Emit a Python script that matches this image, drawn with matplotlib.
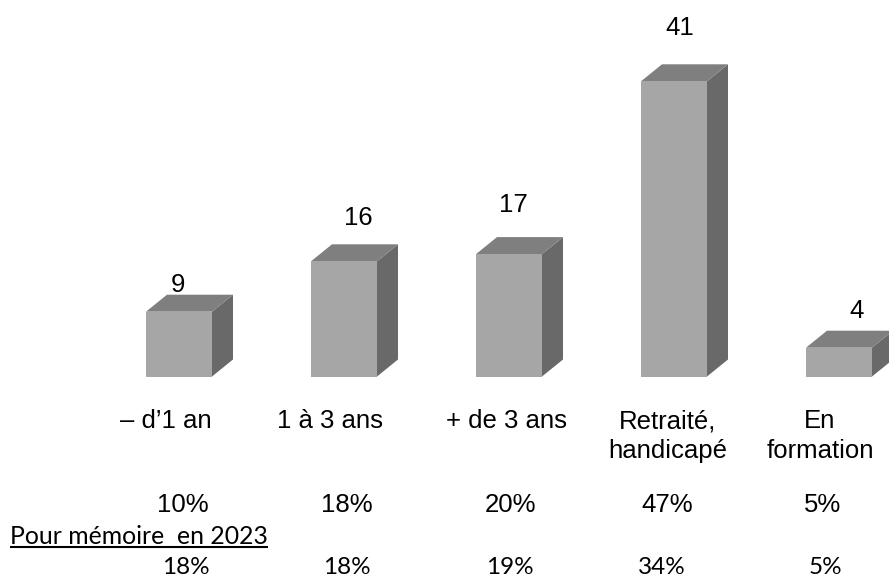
import matplotlib
matplotlib.use("Agg")
import matplotlib.pyplot as plt
from matplotlib.patches import Polygon, Rectangle

# ---- data ----
categories = ["– d’1 an", "1 à 3 ans", "+ de 3 ans", "Retraité,\nhandicapé", "En\nformation"]
values = [9, 16, 17, 41, 4]
pct_2024 = ["10%", "18%", "20%", "47%", "5%"]
pct_2023 = ["18%", "18%", "19%", "34%", "5%"]
memo_label = "Pour mémoire  en 2023"

# ---- layout ----
W, H = 889, 579
DPI = 100
x0_px, step_px = 179, 165          # centre of first bar front, spacing
base_px, unit_px = 376.5, 7.2      # baseline pixel (from top), pixels per unit
bar_w = 66 / step_px
dxd = 21 / step_px
dyd = 17 / unit_px

front_c, top_c, side_c = "#A6A6A6", "#7F7F7F", "#696969"

fig = plt.figure(figsize=(W / DPI, H / DPI), dpi=DPI)
ax = fig.add_axes([0, 0, 1, 1])
ax.set_xlim(-x0_px / step_px, (W - x0_px) / step_px)
ax.set_ylim((base_px - H) / unit_px, base_px / unit_px)
ax.axis("off")

for i, v in enumerate(values):
    xl = i - bar_w / 2
    xr = i + bar_w / 2
    ax.add_patch(Polygon([(xr, 0), (xr + dxd, dyd), (xr + dxd, v + dyd), (xr, v)],
                         closed=True, facecolor=side_c, edgecolor="none"))
    ax.add_patch(Polygon([(xl, v), (xr, v), (xr + dxd, v + dyd), (xl + dxd, v + dyd)],
                         closed=True, facecolor=top_c, edgecolor="none"))
    ax.add_patch(Rectangle((xl, 0), bar_w, v, facecolor=front_c, edgecolor="none"))

FS = 18.5
arial = ["Liberation Sans", "DejaVu Sans"]
calib = ["Lato", "DejaVu Sans"]

# value labels (pixel offsets from front-top centre)
lab_off = [(-1, 27), (14, 43), (4, 49), (6, 53), (18, 37)]
for i, v in enumerate(values):
    ox, oy = lab_off[i]
    ax.annotate(str(v), (i, v), xytext=(ox * 0.72, oy * 0.72), textcoords="offset points",
                ha="center", va="center", fontsize=FS, family=arial, color="#000000")


def px(xp, yp):
    return xp / W, 1 - yp / H


cat_x = [166, 330, 507, 668, 820]
for xp, c in zip(cat_x, categories):
    fx, fy = px(xp, 409)
    fig.text(fx, fy, c, ha="center", va="top", fontsize=FS, family=arial,
             linespacing=1.3, color="#000000")

p1_x = [183, 347, 510, 667, 823]
for xp, t in zip(p1_x, pct_2024):
    fx, fy = px(xp, 505)
    fig.text(fx, fy, t, ha="center", va="center", fontsize=FS, family=arial, color="#000000")

fx, fy = px(10, 536)
memo = fig.text(fx, fy, memo_label, ha="left", va="center", fontsize=17.8, family=calib,
                color="#000000")
fig.canvas.draw()
bb = memo.get_window_extent()
uy = 1 - 547 / H
fig.add_artist(plt.Line2D([bb.x0 / W, bb.x1 / W], [uy, uy], color="#000000", lw=1.5,
                          solid_capstyle="butt", transform=fig.transFigure))

p2_x = [186, 347, 510, 662, 825]
for xp, t in zip(p2_x, pct_2023):
    fx, fy = px(xp, 568)
    fig.text(fx, fy, t, ha="center", va="center", fontsize=17.5, family=calib, color="#000000")

fig.savefig("out.png", dpi=DPI, facecolor="white")
